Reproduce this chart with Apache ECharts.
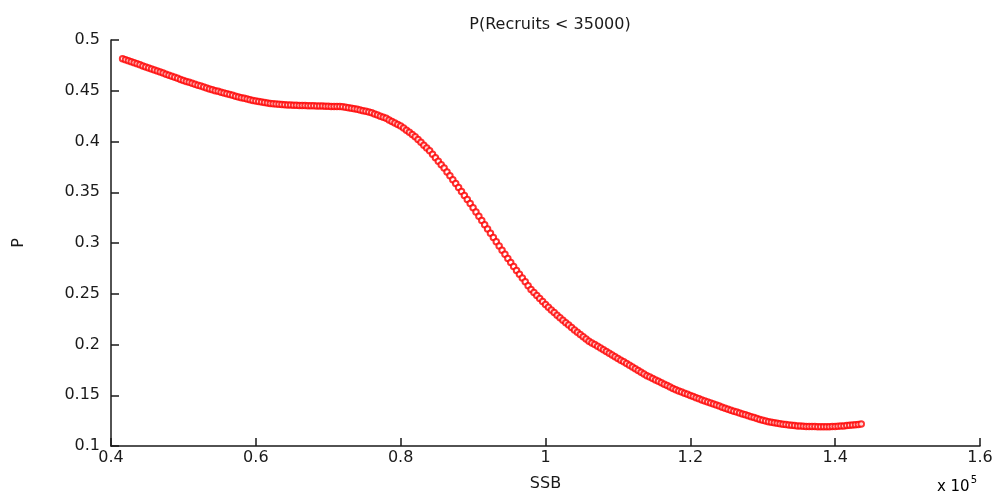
<!DOCTYPE html>
<html>
<head>
<meta charset="utf-8">
<script src="https://cdn.jsdelivr.net/npm/echarts@6/dist/echarts.min.js"></script>
<style>
  html, body { margin: 0; padding: 0; background: #fff; }
  #chart { width: 997px; height: 497px; }
</style>
</head>
<body>
<div id="chart"></div>
<script>
// Probability that recruitment falls below 35000, as a function of spawning stock biomass
const chartTitle = 'P(Recruits < 35000)';
const xName = 'SSB';
const yName = 'P';
const xTicks = [40000, 60000, 80000, 100000, 120000, 140000, 160000];
const yTicks = [0.1, 0.15, 0.2, 0.25, 0.3, 0.35, 0.4, 0.45, 0.5];

// [SSB, P] pairs
const curve = [
  [41600,0.4815],[42000,0.4805],[42400,0.4795],[42800,0.4785],[43200,0.4775],[43600,0.4765],[44000,0.4755],[44400,0.4745],
  [44800,0.4735],[45200,0.4725],[45600,0.4715],[46000,0.4705],[46400,0.4695],[46800,0.4684],[47200,0.4674],[47600,0.4663],
  [48000,0.4653],[48400,0.4643],[48800,0.4632],[49200,0.4622],[49600,0.4611],[50000,0.4601],[50400,0.4592],[50800,0.4583],
  [51200,0.4573],[51600,0.4564],[52000,0.4555],[52400,0.4546],[52800,0.4537],[53200,0.4528],[53600,0.4518],[54000,0.4509],
  [54400,0.4501],[54800,0.4494],[55200,0.4486],[55600,0.4478],[56000,0.4470],[56400,0.4462],[56800,0.4455],[57200,0.4447],
  [57600,0.4439],[58000,0.4431],[58400,0.4425],[58800,0.4418],[59200,0.4412],[59600,0.4405],[60000,0.4399],[60400,0.4394],
  [60800,0.4389],[61200,0.4384],[61600,0.4379],[62000,0.4374],[62400,0.4371],[62800,0.4369],[63200,0.4366],[63600,0.4364],
  [64000,0.4361],[64400,0.4360],[64800,0.4359],[65200,0.4358],[65600,0.4356],[66000,0.4355],[66400,0.4354],[66800,0.4354],
  [67200,0.4353],[67600,0.4352],[68000,0.4351],[68400,0.4350],[68800,0.4350],[69200,0.4349],[69600,0.4348],[70000,0.4347],
  [70400,0.4346],[70800,0.4346],[71200,0.4345],[71600,0.4344],[72000,0.4343],[72400,0.4338],[72800,0.4333],[73200,0.4328],
  [73600,0.4323],[74000,0.4318],[74400,0.4311],[74800,0.4304],[75200,0.4297],[75600,0.4290],[76000,0.4283],[76400,0.4272],
  [76800,0.4261],[77200,0.4250],[77600,0.4239],[78000,0.4228],[78400,0.4213],[78800,0.4198],[79200,0.4183],[79600,0.4168],
  [80000,0.4153],[80400,0.4132],[80800,0.4111],[81200,0.4090],[81600,0.4069],[82000,0.4048],[82400,0.4020],[82800,0.3992],
  [83200,0.3964],[83600,0.3936],[84000,0.3908],[84400,0.3874],[84800,0.3840],[85200,0.3806],[85600,0.3772],[86000,0.3738],
  [86400,0.3700],[86800,0.3662],[87200,0.3624],[87600,0.3586],[88000,0.3548],[88400,0.3508],[88800,0.3468],[89200,0.3428],
  [89600,0.3388],[90000,0.3348],[90400,0.3306],[90800,0.3264],[91200,0.3222],[91600,0.3180],[92000,0.3138],[92400,0.3096],
  [92800,0.3054],[93200,0.3012],[93600,0.2970],[94000,0.2928],[94400,0.2888],[94800,0.2848],[95200,0.2808],[95600,0.2768],
  [96000,0.2728],[96400,0.2691],[96800,0.2654],[97200,0.2617],[97600,0.2580],[98000,0.2543],[98400,0.2513],[98800,0.2483],
  [99200,0.2453],[99600,0.2423],[100000,0.2393],[100400,0.2367],[100800,0.2341],[101200,0.2315],[101600,0.2289],[102000,0.2263],
  [102400,0.2239],[102800,0.2215],[103200,0.2191],[103600,0.2167],[104000,0.2143],[104400,0.2121],[104800,0.2099],[105200,0.2077],
  [105600,0.2055],[106000,0.2033],[106400,0.2016],[106800,0.1999],[107200,0.1982],[107600,0.1965],[108000,0.1948],[108400,0.1931],
  [108800,0.1914],[109200,0.1897],[109600,0.1880],[110000,0.1863],[110400,0.1846],[110800,0.1829],[111200,0.1812],[111600,0.1795],
  [112000,0.1778],[112400,0.1761],[112800,0.1744],[113200,0.1727],[113600,0.1710],[114000,0.1693],[114400,0.1679],[114800,0.1665],
  [115200,0.1651],[115600,0.1637],[116000,0.1623],[116400,0.1609],[116800,0.1595],[117200,0.1581],[117600,0.1567],[118000,0.1553],
  [118400,0.1542],[118800,0.1531],[119200,0.1520],[119600,0.1509],[120000,0.1498],[120400,0.1487],[120800,0.1476],[121200,0.1465],
  [121600,0.1454],[122000,0.1443],[122400,0.1433],[122800,0.1423],[123200,0.1413],[123600,0.1403],[124000,0.1393],[124400,0.1383],
  [124800,0.1373],[125200,0.1363],[125600,0.1353],[126000,0.1343],[126400,0.1334],[126800,0.1325],[127200,0.1316],[127600,0.1307],
  [128000,0.1298],[128400,0.1289],[128800,0.1280],[129200,0.1271],[129600,0.1262],[130000,0.1253],[130400,0.1246],[130800,0.1240],
  [131200,0.1234],[131600,0.1229],[132000,0.1224],[132400,0.1219],[132800,0.1215],[133200,0.1211],[133600,0.1207],[134000,0.1204],
  [134400,0.1201],[134800,0.1198],[135200,0.1196],[135600,0.1194],[136000,0.1193],[136400,0.1192],[136800,0.1191],[137200,0.1191],
  [137600,0.1190],[138000,0.1190],[138400,0.1190],[138800,0.1190],[139200,0.1190],[139600,0.1191],[140000,0.1192],[140400,0.1194],
  [140800,0.1196],[141200,0.1198],[141600,0.1201],[142000,0.1204],[142400,0.1207],[142800,0.1210],[143200,0.1213],[143600,0.1216]
];

const ink = '#1a1a1a';
const font = '"DejaVu Sans", "Liberation Sans", sans-serif';

const chart = echarts.init(document.getElementById('chart'), null, { renderer: 'canvas' });

chart.setOption({
  animation: false,
  backgroundColor: '#ffffff',
  title: {
    text: chartTitle,
    left: 545,
    textAlign: 'center',
    top: 12,
    textStyle: { fontFamily: font, fontSize: 16, fontWeight: 'normal', color: ink }
  },
  grid: { left: 111, right: 17, top: 40, bottom: 48, containLabel: false },
  xAxis: {
    type: 'value',
    min: xTicks[0],
    max: xTicks[xTicks.length - 1],
    interval: xTicks[1] - xTicks[0],
    name: xName,
    nameLocation: 'middle',
    nameGap: 30,
    nameTextStyle: { fontFamily: font, fontSize: 16, color: ink },
    axisLine: { lineStyle: { color: ink, width: 1.5 } },
    axisTick: { inside: true, length: 8, lineStyle: { color: ink, width: 1.5 } },
    axisLabel: {
      fontFamily: font, fontSize: 16, color: ink, margin: 4,
      formatter: v => String(parseFloat((v / 1e5).toFixed(2)))
    },
    splitLine: { show: false }
  },
  yAxis: {
    type: 'value',
    min: yTicks[0],
    max: yTicks[yTicks.length - 1],
    interval: 0.05,
    name: yName,
    nameLocation: 'middle',
    nameGap: 84,
    nameRotate: 90,
    nameTextStyle: { fontFamily: font, fontSize: 16, color: ink },
    axisLine: { show: true, lineStyle: { color: ink, width: 1.5 } },
    axisTick: { show: true, inside: true, length: 8, lineStyle: { color: ink, width: 1.5 } },
    axisLabel: {
      fontFamily: font, fontSize: 16, color: ink, margin: 11,
      formatter: v => String(parseFloat(v.toFixed(2)))
    },
    splitLine: { show: false }
  },
  graphic: [{
    type: 'text',
    right: 20,
    bottom: 2,
    style: {
      text: '{b|x 10}{s|5}',
      rich: {
        b: { fontFamily: font, fontSize: 15, color: ink, verticalAlign: 'bottom', lineHeight: 20 },
        s: { fontFamily: font, fontSize: 10, color: ink, verticalAlign: 'top', lineHeight: 20, padding: [0, 0, 9, 1] }
      }
    }
  }],
  series: [{
    type: 'scatter',
    data: curve,
    symbol: 'emptyCircle',
    symbolSize: 5.5,
    itemStyle: { color: '#ff0000', borderColor: '#ff0000', borderWidth: 1 },
    emphasis: { disabled: true },
    silent: true
  }]
});
</script>
</body>
</html>
